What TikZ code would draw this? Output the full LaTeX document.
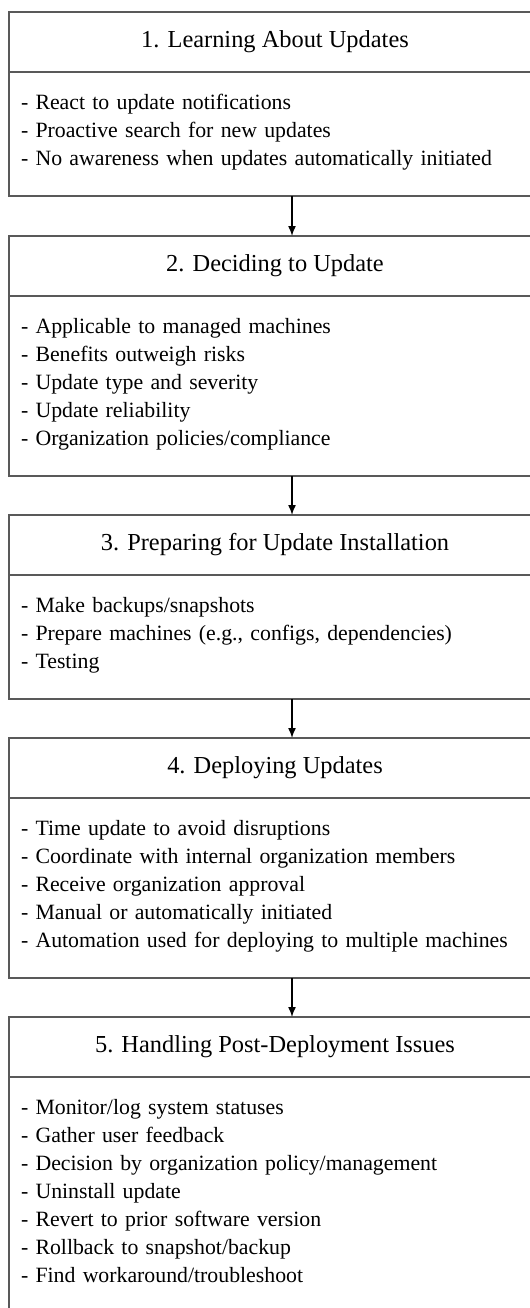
\documentclass[tikz,border=0pt]{standalone}
\usepackage{fontspec}
\setmainfont{Liberation Serif}
\usetikzlibrary{positioning, arrows.meta}

\definecolor{framegray}{gray}{0.35}

\tikzset{
    stagetitle/.style={draw=framegray, line width=1pt, inner sep=0pt, outer sep=0pt,
        minimum width=266pt, minimum height=30pt, align=center,
        font=\fontsize{12.2}{14}\selectfont},
    stagebody/.style={draw=framegray, line width=1pt, inner xsep=6pt, inner ysep=0pt, outer sep=0pt,
        text width=254pt, align=left, text height=18.5pt,
        font=\fontsize{10.9}{14}\selectfont},
    flow/.style={-{Latex[length=5pt, width=4pt]}, line width=0.75pt, black}
}

\begin{document}
\begin{tikzpicture}[x=0.5pt, y=-0.5pt]

    \useasboundingbox (0,0) rectangle (530,1308);

    \node[stagetitle, anchor=north west] (t1) at (9,12) {1. Learning About Updates};
    \node[stagebody, text depth=43.5pt, below=0pt of t1] (b1) {- React to update notifications\\
        - Proactive search for new updates\\
        - No awareness when updates automatically initiated};

    \node[stagetitle, below=20pt of b1] (t2) {2. Deciding to Update};
    \node[stagebody, text depth=71.5pt, below=0pt of t2] (b2) {- Applicable to managed machines\\
        - Benefits outweigh risks\\
        - Update type and severity\\
        - Update reliability\\
        - Organization policies/compliance};

    \node[stagetitle, below=19.5pt of b2] (t3) {3. Preparing for Update Installation};
    \node[stagebody, text depth=43.5pt, below=0pt of t3] (b3) {- Make backups/snapshots\\
        - Prepare machines (e.g., configs, dependencies)\\
        - Testing};

    \node[stagetitle, below=19.5pt of b3] (t4) {4. Deploying Updates};
    \node[stagebody, text depth=71.5pt, below=0pt of t4] (b4) {- Time update to avoid disruptions\\
        - Coordinate with internal organization members\\
        - Receive organization approval\\
        - Manual or automatically initiated\\
        - Automation used for deploying to multiple machines};

    \node[stagetitle, below=19.5pt of b4] (t5) {5. Handling Post-Deployment Issues};
    \node[stagebody, text depth=99.5pt, below=0pt of t5] (b5) {- Monitor/log system statuses\\
        - Gather user feedback\\
        - Decision by organization policy/management\\
        - Uninstall update\\
        - Revert to prior software version\\
        - Rollback to snapshot/backup\\
        - Find workaround/troubleshoot};

    % arrows sit a bit right of the centre line
    \coordinate (ax) at (292,0);
    \foreach \i/\j in {1/2, 2/3, 3/4, 4/5}
        \draw[flow] (b\i.south -| ax) -- (t\j.north -| ax);

\end{tikzpicture}
\end{document}
